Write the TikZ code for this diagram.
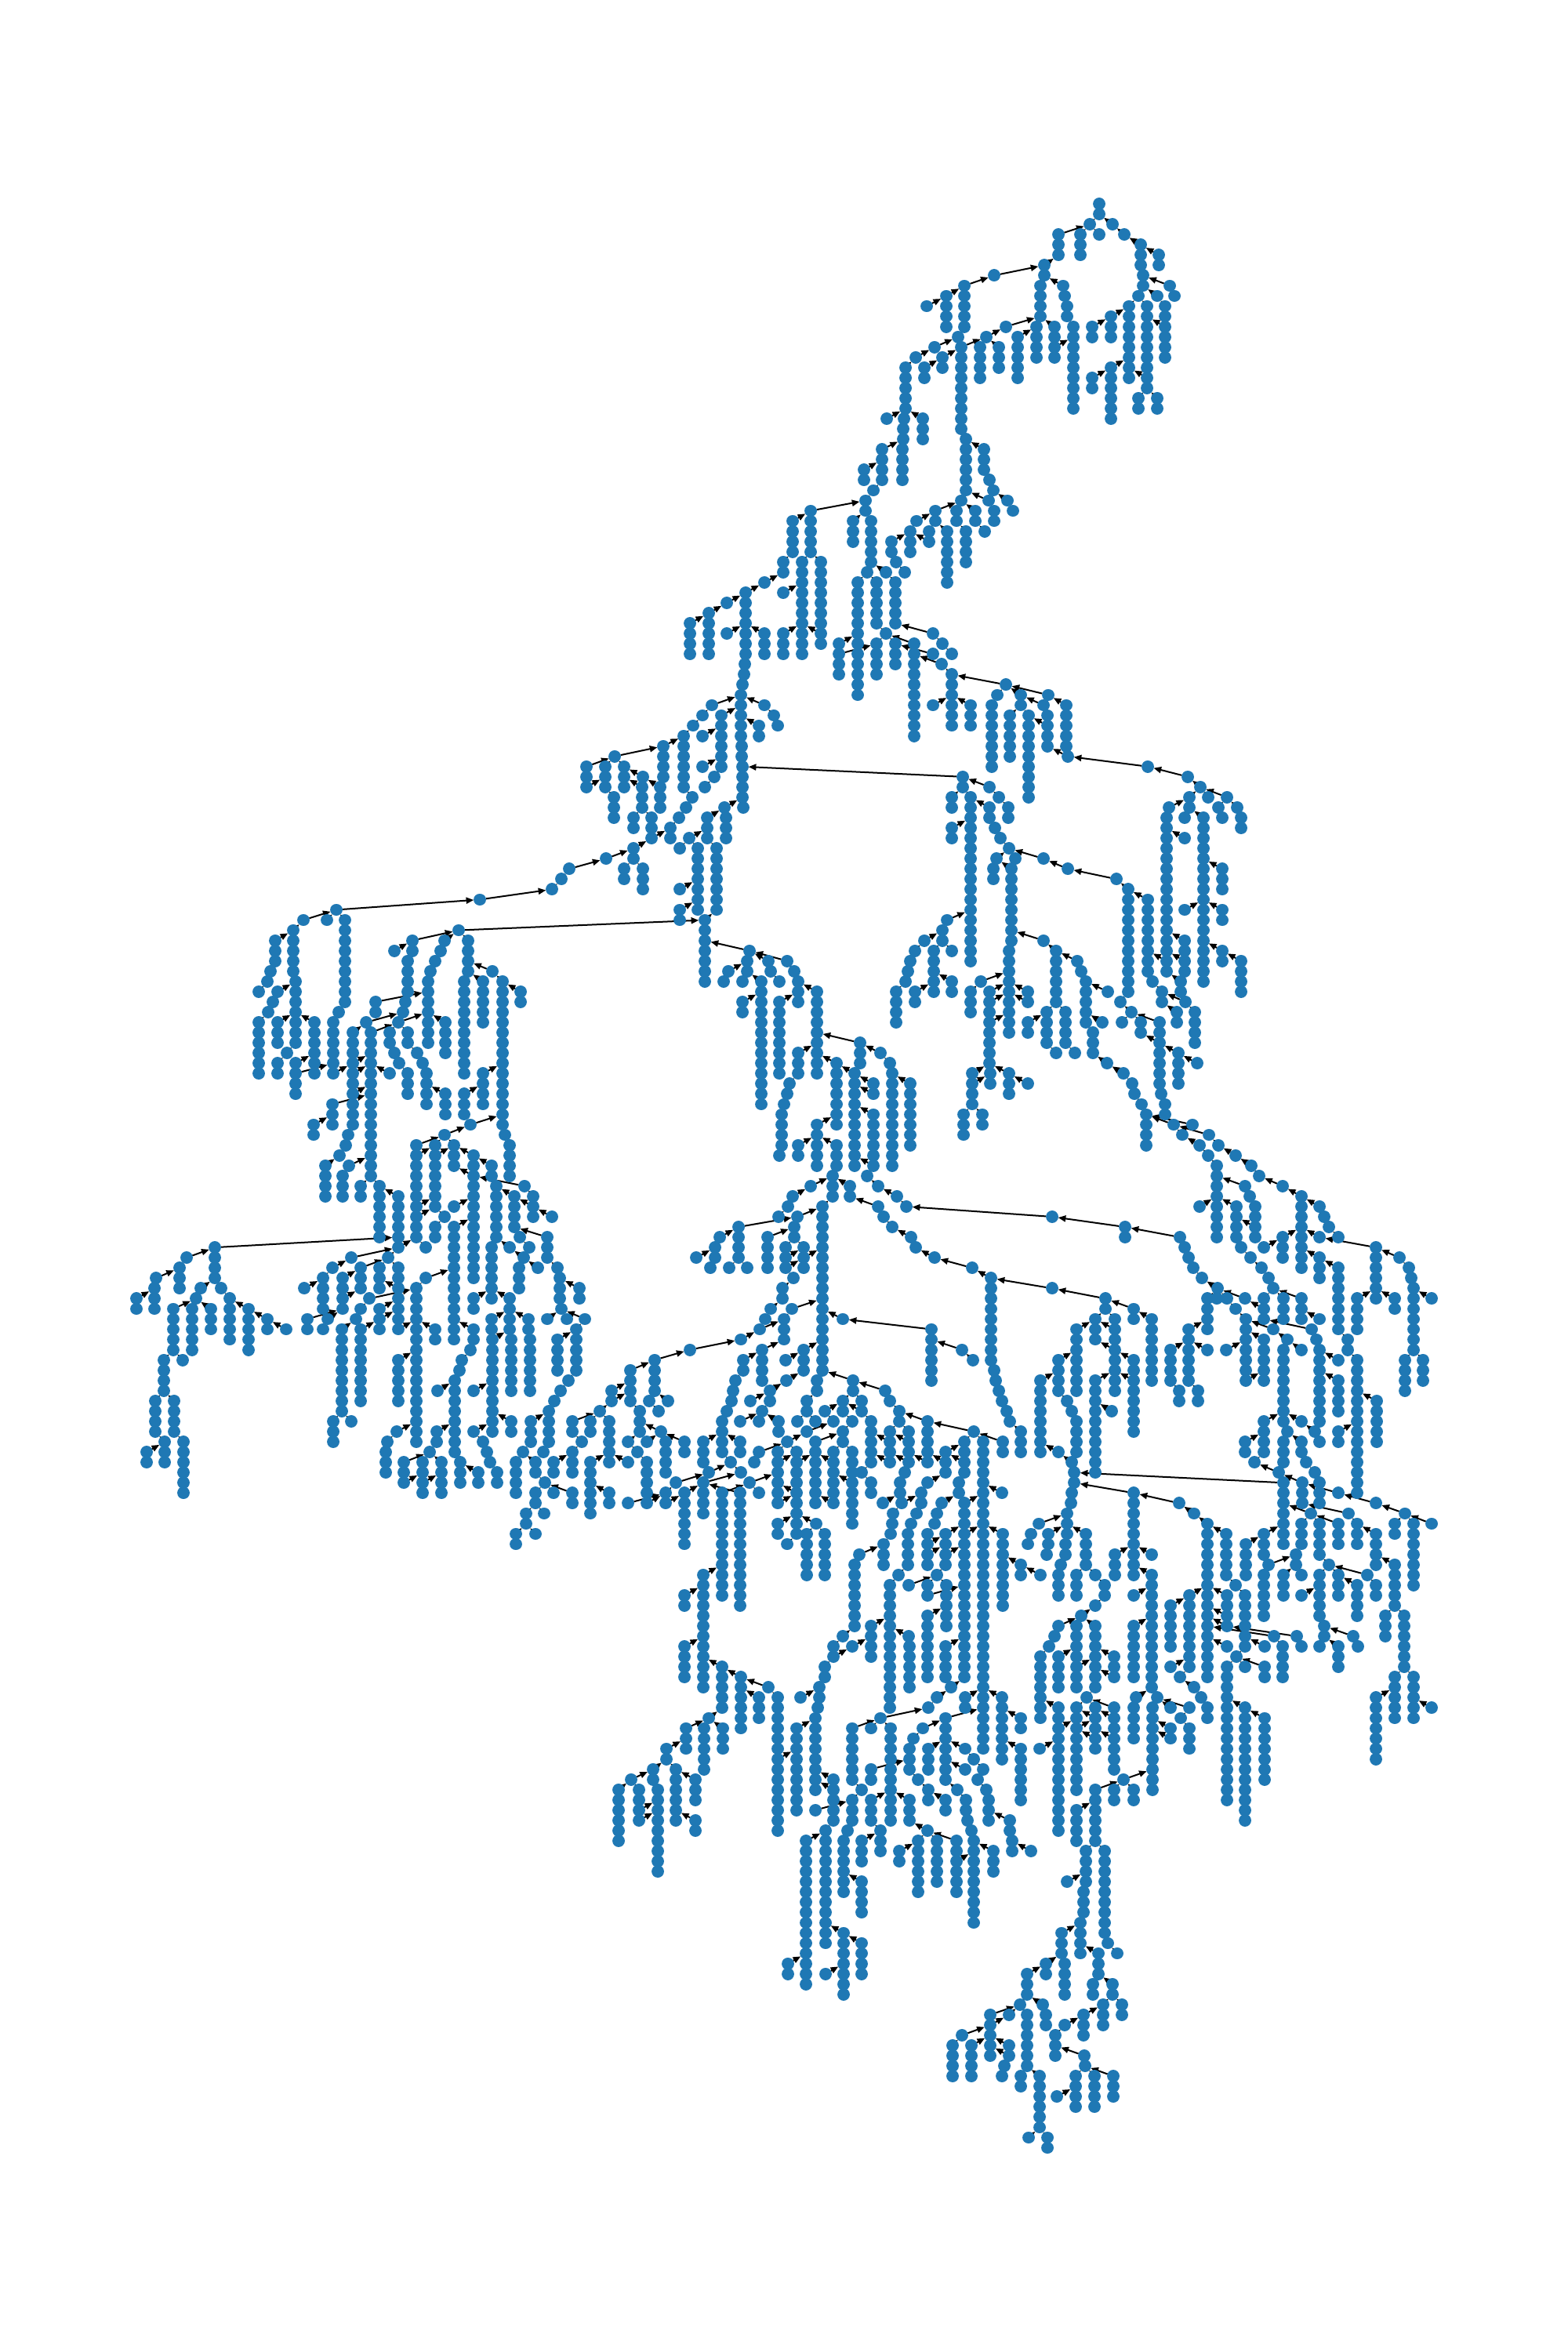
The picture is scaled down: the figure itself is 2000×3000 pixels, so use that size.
\documentclass[tikz,border=0pt]{standalone}
\usetikzlibrary{arrows.meta}
\definecolor{nodeblue}{HTML}{1F78B4}
\pgfdeclarelayer{bg}
\pgfsetlayers{bg,main}
\tikzset{
  dot/.style={circle,inner sep=0pt,outer sep=0pt,minimum size=3.9pt},
  dotstroke/.style={draw=nodeblue,line width=3.95pt,line cap=round},
  edgeln/.style={black,line width=0.5pt,-{Stealth[length=2.4pt,width=2pt,inset=0pt]}}
}
\makeatletter
\newcount\nid \newcount\bd \newcount\bid \newcount\dd
\let\NE\relax \let\HD\relax
\gdef\heads{}
\def\ml{l}\def\mr{r}\def\mn{n}\def\mx{x}
\def\setB#1#2#3#4{\gdef\ox{#1}\gdef\oy{#2}\gdef\sx{#3}\gdef\sy{#4}}
\def\dupNE#1#2{\ifnum\numexpr(\px-#1)*(\px-#1)\relax<81 \gdef\isdup{1}\fi}
\def\addchain{%
 \pgfmathtruncatemacro\px{\ox+\X/\sx+0.5}%
 \pgfmathtruncatemacro\lv{round((\oy+\Y/\sy-260)/13.05)}%
 \edef\DD{\D}\edef\tgt{\px}\def\md{0}%
 \ifx\DD\ml\def\md{-1}\else\ifx\DD\mr\def\md{1}\else\ifx\DD\mn\else\ifx\DD\mx\def\md{9}\else\pgfmathtruncatemacro\tgt{\ox+\DD/\sx+0.5}\fi\fi\fi\fi
 \foreach \ci in {1,...,\N}{%
   \edef\LL{\the\numexpr\lv+\ci-1\relax}%
   \gdef\isdup{0}%
   \ifcsname LV\LL\endcsname
     {\let\NE\dupNE\csname LV\LL\endcsname}%
   \else\expandafter\gdef\csname LV\LL\endcsname{}\expandafter\gdef\csname DP\LL\endcsname{}\fi
   \ifnum\isdup=0
     \global\advance\nid by 1
     \pgfmathsetmacro\yy{260+13.05*\LL}%
     \node[dot] (n\the\nid) at (\px,\yy) {};
     \expandafter\xdef\csname LV\LL\endcsname{\csname LV\LL\endcsname\NE{\px}{\the\nid}}%
     \expandafter\xdef\csname DP\LL\endcsname{\csname DP\LL\endcsname(\px,\yy)--(\px.05,\yy)}%
     \ifnum\ci=1 \xdef\heads{\heads\HD{\the\nid}{\tgt}{\LL}{\md}}\fi
   \fi}}
\def\chains#1{\foreach \X/\Y/\N/\D in {#1}{\addchain}}
\def\srchNE#1#2{%
 \dd=\numexpr#1-\curt\relax
 \ifnum\curm=-1 \ifnum\dd<-1 \else\dd=1000000 \fi\fi
 \ifnum\curm=1 \ifnum\dd>1 \else\dd=1000000 \fi\fi
 \ifnum\dd<0 \dd=-\dd\fi
 \ifnum\dd<\bd \bd=\dd \bid=#2 \fi}
\def\doHD#1#2#3#4{%
 \ifnum#4=9 \else
 \bd=1000000 \bid=0
 \edef\pl{\the\numexpr#3-1\relax}%
 \ifcsname LV\pl\endcsname
  \def\curt{#2}\def\curm{#4}\let\NE\srchNE\csname LV\pl\endcsname
  \ifnum\bid=0 \def\curm{0}\bd=1000000 \csname LV\pl\endcsname\fi
  \ifnum\bid>0 \draw[edgeln] (n#1) -- (n\the\bid);\fi
 \fi\fi}
\makeatother
\begin{document}
\begin{tikzpicture}[x=0.25pt,y=-0.25pt]
\useasboundingbox (0,0) rectangle (2000,3000);
% ---- crop 1
\setB{1100}{220}{3}{3}
\chains{905/120/2/x,870/198/1/r,958/198/1/l,751/237/3/r,835/237/3/r,907/237/1/l,1003/237/1/l,1066/276/3/l,1135/315/2/l,697/354/2/r,1075/395/2/n,1177/435/1/l,1195/475/1/n,682/435/4/n,769/435/1/l,775/475/1/n,784/515/2/n,1057/475/1/r,1127/475/1/l,1021/515/8/r,1090/515/7/l,1159/515/2/l,1159/592/4/l,952/553/3/r,880/592/2/r,667/592/4/r,736/592/2/l,736/670/2/r,808/592/9/n,550/592/1/r,595/632/5/r,473/632/1/r,505/397/1/r,389/435/5/r,320/475/4/r,247/515/1/r,367/632/1/n,379/670/9/r,275/670/1/r,203/710/1/r,307/710/2/r,238/748/2/r,451/670/4/n,523/670/3/l,166/748/5/n,158/943/1/n,155/982/2/n,92/943/1/r,232/943/3/l,397/1020/1/n,952/748/6/r,880/787/2/r,1090/787/2/l,1057/866/2/n,1127/866/2/n}
% ---- crop 2
\setB{700}{500}{2.24}{2.24}
\chains{1015/19/5/n,964/76/1/r,1069/76/3/l,1011/165/4/n,953/165/4/r,901/223/2/r,928/283/1/n,904/312/2/n,749/341/5/904,697/370/4/r,870/370/3/r,921/370/5/l,964/517/1/l,910/517/1/n,883/546/12/r,937/546/5/l,991/546/5/l,1179/19/4/n,1192/135/6/n,1244/165/3/l,1258/253/1/l,1270/283/1/n,1311/312/1/l,1178/312/1/n,1257/312/1/l,1325/341/1/l,1105/341/2/r,1165/341/2/r,1219/341/2/l,1273/341/2/n,1246/400/1/n,1051/370/1/r,1139/400/6/l,1192/400/4/l,1087/400/1/n,1087/429/1/l,1033/400/3/r,980/429/2/r,993/487/1/n,1018/517/1/n,724/487/10/r,778/487/7/l,778/691/2/l,670/487/2/r,617/546/1/r,563/575/7/r,509/604/1/r,457/633/5/r,404/662/4/r,509/691/1/r,617/691/3/l,670/575/1/r,670/691/3/r,561/780/1/n,558/809/1/n,554/839/1/n,548/867/5/n,550/1013/2/n,554/1072/4/n,556/1188/1/n,467/896/1/r,615/896/1/l,642/925/1/n,655/955/1/n,493/925/6/r,440/925/1/n,413/955/1/n,386/984/6/n,440/984/1/r,440/1072/1/r,601/955/2/l,327/1013/4/r,189/1042/1/r,107/1072/2/r,107/1130/1/r,161/1072/3/r,214/1072/3/l,269/1101/1/l,318/1130/3/l,267/1130/3/l,187/1159/3/n,241/1217/2/n,294/1217/2/l,294/1275/1/r,472/1101/1/n,446/1130/1/n,411/1159/1/n,393/1188/1/n,372/1217/1/n,348/1246/2/n,243/1304/2/r,164/1333/1/r,216/1363/2/r,269/1363/3/l,59/1363/1/r,35/1393/1/n,9/1423/1/n,375/1304/1/r,400/1275/1/r,453/1217/3/r,501/1188/1/r,507/1217/3/n,426/1304/7/n,480/1304/7/l,375/1423/1/r,375/1481/2/r,446/1510/1/r,
1044/720/10/l,964/691/1/n,1097/691/1/l,1125/720/1/n,1151/749/1/n,1098/749/1/991,1123/780/1/1044,1152/809/6/n,1307/839/1/l,1098/896/1/r,1206/896/3/l,937/720/4/r,991/720/3/l,829/720/1/r,829/749/3/937,1282/867/1/n,1349/867/2/l,1427/867/1/1307,1414/896/1/1349,1425/925/1/n,1425/955/3/1372,1478/896/5/l,1483/1042/1/1425,1265/896/7/n,1318/925/5/r,1372/925/9/l}
% ---- crop 4
\setB{1100}{950}{1.96}{2.24}
\chains{250/92/2/l,318/122/1/l,342/151/1/n,224/151/2/r,271/151/17/l,318/180/2/l,365/180/2/n,224/238/2/r,332/238/1/n,344/267/1/n,367/296/1/n,453/325/1/l,514/355/1/l,636/385/1/l,665/414/11/n,713/443/8/l,336/325/1/r,382/325/1/n,328/355/2/n,373/355/8/l,367/590/9/n,452/560/1/l,484/590/6/n,538/619/1/l,546/648/1/n,559/677/5/n,600/794/1/l,614/706/1/l,644/736/1/n,672/765/1/n,742/794/2/l,742/853/5/l,747/999/1/n,757/1028/2/n,695/794/2/n,648/794/1/n,789/881/4/l,836/910/1/l,461/765/4/n,508/765/4/l,414/794/2/r,577/823/3/n,485/881/1/n,532/881/1/n,612/910/1/l,653/940/1/n,675/970/1/n,680/999/1/n,698/1028/1/n,710/1057/4/n,778/1086/1/710,826/1086/1/710,867/1115/1/778,800/1115/1/n,842/1145/1/l,864/1174/1/n,885/1203/8/n,889/1145/1/n,932/1174/1/l,972/1203/1/n,992/1232/1/n,1051/1262/1/l,1098/1291/8/n,1143/1320/1/l,1155/1349/1/n,1166/1378/1/n,1190/1407/1/n,1143/1407/1/l,1284/1437/6/1143,1343/1466/1/l,1367/1495/1/n,1372/1524/1/n,957/1262/1/l,969/1291/1/n,981/1320/2/n,981/1378/2/l,934/1320/4/l,842/1320/1/r,946/1437/1/l,970/1466/1/n,998/1495/1/n,1015/1524/1/n,1028/1553/1/n,1051/1407/3/r,1004/1437/1/r,1143/1466/3/l,1190/1495/7/l,475/1349/1/110,110/1320/1/n,87/1291/1/n,39/1262/1/n,11/1232/1/n,657/1378/2/l,794/1407/1/l,806/1437/1/n,816/1466/1/n,828/1495/1/n,848/1524/1/n,887/1553/1/n,39/1320/1/l,52/1349/1/n,75/1378/1/n,122/1407/1/n,134/1437/1/n,181/1466/1/l,275/1495/1/l,322/1524/2/l,475/1553/1/l,
714/63/1/l,814/92/1/l,844/122/1/n,865/151/1/n,889/180/1/n,912/151/1/l,936/180/1/n,947/209/2/n,900/209/1/n,818/151/2/n,806/209/1/n,767/180/1/r,761/209/14/n,761/619/2/l,853/209/17/l,806/267/1/l,900/355/3/l,806/473/1/r,900/473/2/l,806/560/2/l,806/619/2/l,900/590/2/l,947/619/4/l,726/677/1/n,749/706/2/n,808/736/1/749,795/677/2/l,785/765/2/l,832/765/4/n,
212/502/1/r,200/531/2/n,155/560/1/r,132/590/1/n,120/619/1/n,114/648/1/n,108/677/1/n,85/706/4/n,179/590/5/n,224/590/1/l,224/677/2/l,132/706/2/r,295/677/1/367,271/706/3/n,318/706/1/r,318/736/2/r,318/794/5/r,320/940/2/n,414/706/1/l,414/736/1/l,275/940/1/r,275/970/3/r,367/940/3/l,414/970/1/l,252/1057/3/n,299/1057/2/l,45/881/1/l,69/910/1/n,75/940/10/n,120/970/7/l}
% ---- crop 10
\setB{880}{1180}{3}{3}
\chains{58/22/6/n,229/100/1/58,373/139/1/229,220/139/2/n,301/139/1/229,310/178/1/n,148/178/1/r,129/217/1/n,202/217/1/n,274/217/13/l,343/217/1/n,398/178/1/n,415/217/3/n,487/256/9/l,343/295/8/r,202/295/2/r,650/451/3/l,730/490/1/l,767/529/1/n,775/568/9/n,775/922/1/631,844/607/7/l,415/490/3/r,560/529/7/l,631/568/10/l,703/607/1/l,703/646/1/l,703/725/5/l,703/922/1/l,381/607/1/n,373/646/1/n,360/685/1/n,352/725/4/n,343/884/1/n,487/765/2/r,487/845/3/n,560/845/3/l,415/845/2/r,546/960/3/n,463/1000/1/r,394/1040/1/n,376/1078/1/n,613/1000/2/l,675/960/1/l,721/1000/1/n,793/1040/1/l,829/1078/1/n,721/1078/1/546,739/1117/1/n,775/1157/1/n,847/1195/1/l,865/1235/1/n,938/1273/1/l,1081/1312/1/l,1153/1350/1/l,508/1078/17/r,340/1117/1/n,412/1117/1/r,398/1157/2/n,186/1157/4/412,115/1195/1/r,97/1235/2/n,25/1273/1/r,298/1195/4/r,365/1235/1/n,365/1273/1/r,365/1312/1/r,435/1235/1/l,435/1273/2/r,79/1312/1/n,151/1312/1/r,220/1312/1/l}
% ---- crop 3
\setB{300}{1100}{2.24}{2.24}
\chains{699/108/1/r,288/137/1/r,314/166/9/l,261/166/1/r,194/166/1/r,166/195/5/n,115/224/3/r,101/312/1/n,92/341/1/n,68/370/1/n,172/341/7/n,122/370/1/r,108/400/1/n,94/429/1/n,68/458/6/n,122/458/3/r,227/458/6/l,148/546/1/n,122/575/2/n,173/575/1/r,173/604/3/281,281/458/5/n,281/604/1/r,295/429/1/r,401/400/2/547,375/458/1/480,467/458/1/547,387/487/15/r,335/487/3/r,335/575/1/r,335/604/2/r,335/662/4/r,323/780/1/n,316/809/1/n,442/487/2/n,493/487/2/l,455/546/1/n,469/575/1/n,442/604/1/l,493/604/3/n,520/546/1/n,536/575/1/n,547/604/4/n,601/662/3/l,639/195/1/1342,598/224/1/n,588/253/1/n,572/283/1/n,558/312/1/n,550/341/7/n,601/458/4/l,507/224/2/r,455/253/1/r,493/283/4/n,485/400/1/n,480/429/1/n,666/224/4/l,735/312/1/l,655/341/10/n,708/341/5/l,763/341/15/n,815/370/2/l,708/604/4/r,655/662/3/r,770/780/1/n,783/809/4/n,673/750/1/r,598/780/1/r,518/809/1/r,518/838/5/r,518/984/1/r,518/1013/3/r,572/809/1/n,572/838/6/r,625/809/3/l,680/838/2/l,680/896/11/l,733/867/2/l,827/925/1/680,852/954/1/n,852/984/2/l,746/925/6/n,798/954/4/l,905/1013/1/l,892/1072/3/798,814/1072/1/l,839/1101/1/n,785/1101/1/l,733/1101/6/n,825/1130/1/l,812/1159/3/n,921/1159/1/l,928/1188/1/n,928/1217/2/n,932/1277/1/n,864/1159/1/l,983/1217/2/l,892/1306/1/n,947/1306/1/n,1000/1306/1/l,413/925/6/l,465/954/5/l,465/1101/1/r,359/925/2/r,306/896/3/n,325/867/1/r,258/867/4/n,298/838/1/n,278/692/3/387,225/750/2/r,625/984/1/r,598/1013/1/n,625/1042/12/r,572/1042/2/n,545/1101/1/n,437/1130/1/r,332/1130/1/465,278/1159/1/r,252/1188/4/r,198/1217/1/r,306/1188/2/r,306/1247/2/r,359/1159/3/r,465/1159/2/l,465/1217/4/l,465/1335/1/r,413/1159/3/r,545/1188/1/r,518/1217/16/n,383/1247/1/518,359/1277/1/r,205/1306/2/306,265/1306/1/r,251/1335/1/n,413/1277/1/r,413/1306/2/r,345/1306/1/r,305/1335/9/r,359/1335/8/r,572/1335/2/l,680/1335/2/l,673/1394/1/n,648/1423/1/n,640/1452/1/n,628/1481/8/n,785/1247/4/l,680/1247/2/r,733/1306/2/r,735/1364/10/r,838/1306/2/l,789/1364/6/n,843/1364/6/l,921/1364/4/r,975/1335/5/n,953/1481/1/n,930/1510/1/n,912/1539/1/n,578/1510/1/r,682/1510/1/r,465/1423/5/r}
% ---- crop 5
\setB{150}{1500}{2.24}{3}
\chains{278/274/4/801,198/313/1/r,177/352/3/n,110/391/1/r,106/432/3/n,54/471/2/r,238/432/1/r,225/471/1/n,295/432/1/l,321/471/5/n,375/510/5/l,427/550/2/l,481/590/1/l,267/510/3/l,160/510/5/r,213/510/5/n,133/706/4/n,186/706/1/l,108/862/4/n,162/862/4/l,135/1018/3/n,189/1018/6/l,82/1057/2/r,
615/940/3/r,668/940/1/l,908/590/2/l,800/706/5/r,1125/940/2/l,1017/979/1/r,912/979/2/r,798/979/1/r,771/1018/1/n,765/1057/3/n,892/1057/1/n,818/1096/2/r,818/1174/1/r,872/1096/2/n,872/1174/2/r,926/1096/4/l,980/1096/3/l,1031/1135/2/l,1085/1135/2/n,1044/1018/1/l,1055/1057/1/n,1065/1096/1/n,1180/940/3/r,1233/900/4/n}
% ---- crop 6
\setB{600}{1600}{2.24}{3}
\chains{225/600/4/n,209/757/1/n,150/757/1/r,172/640/3/r,131/796/4/n,185/796/2/l,238/796/2/r,292/640/2/r,343/640/2/r,397/640/5/l,370/600/1/r,458/445/4/r,527/406/4/r,627/368/1/r,773/330/1/r,827/290/1/897,897/250/3/n,919/210/1/1007,924/92/1/n,891/132/2/n,858/210/1/n,843/250/1/n,833/368/4/r,780/406/2/r,757/483/1/n,750/522/1/n,746/562/1/n,733/600/1/n,718/640/4/n,771/640/1/r,833/600/1/n,855/522/2/r,800/562/1/r,903/483/1/r,825/640/1/n,880/640/2/l,900/406/1/r,953/368/3/r,1063/250/1/l,1317/290/6/1063,1404/368/1/l,1435/406/1/n,1488/92/9/n,1093/483/2/l,990/483/2/n,1186/522/1/l,1199/562/1/n,1226/600/2/n,960/562/2/n,1065/562/2/r,1118/562/1/l,1118/600/1/l,1012/600/1/r,1092/640/1/n,1038/640/1/n,986/640/1/n,933/640/1/n,1145/640/5/n,1305/640/4/l,1305/796/1/l,1438/680/1/l,1520/718/2/l,1466/718/31/n,1412/718/2/r,1412/796/2/l,1358/757/1/r,1358/796/2/l,1199/680/1/r,1199/718/2/l,1199/796/1/l,1252/680/1/n,1252/718/2/l,1252/796/1/l,1065/680/2/r,960/680/1/1038,905/718/1/r,825/757/1/r,811/796/1/n,772/835/1/n,985/718/7/r,932/757/1/n,932/796/3/r,932/915/5/l,878/757/1/r,878/796/4/r,878/955/1/r,1038/757/1/r,1038/796/4/l,1038/955/1/l,1092/757/3/l,1118/835/1/n,1145/875/2/n,1092/875/5/1038,744/796/1/n,680/835/1/r,586/875/1/r,665/875/4/772,798/875/1/878,718/915/11/r,771/915/12/l,825/915/1/l,612/915/6/r,558/915/1/n,558/955/1/r,505/796/4/n,505/955/1/r,451/955/1/558,451/796/1/l,397/915/2/l,343/796/6/r,317/718/1/l,292/757/3/n,292/915/2/l,212/875/1/l,238/915/1/l,185/915/2/r,158/995/2/n,211/995/1/l,131/1072/2/n,185/1072/1/l,511/562/1/n,565/562/1/l,484/600/3/n,538/600/1/n,545/680/1/l,612/718/2/l,505/718/1/r,558/718/4/n,451/718/1/n,478/757/1/l,404/522/1/r,404/562/1/r,666/718/3/r,771/718/2/l,1306/875/1/r,1395/875/2/n,1287/915/2/n,1275/995/1/n,1260/1033/1/n,1250/1072/4/n,1240/835/1/n,1228/875/2/n,1233/955/1/r,1208/995/1/n,1205/1033/1/n,1200/1072/1/n,1179/955/1/r,1347/955/1/r,1333/995/1/n,1327/1033/1/n,1307/1072/1/n,1307/1112/1/1359,1307/1150/2/r,1412/955/3/r,1412/1072/7/r,1358/1072/1/r,1358/1112/1/n,1358/1150/2/r,1520/1072/8/l,1250/1112/1/1359,1180/1112/3/r,1112/1150/1/r,1098/1190/7/n,1222/1228/1/n,1199/1268/13/n,1252/1268/1/r,1333/1228/1/n,1307/1268/1/n,1307/1306/1/1412,1359/1268/5/l,1412/1268/10/r,1307/1385/7/r,1145/1423/2/r,1065/1462/1/r,1252/1462/1/l,987/1033/1/l,960/1072/5/n,1012/1072/5/l,905/1112/1/r,878/1033/2/r,666/1228/12/r,612/1306/2/r}
% ---- crop 7
\setB{1250}{1550}{2.613}{3}
\chains{38/241/9/l,241/282/1/38,417/322/2/l,511/360/2/l,573/399/7/l,385/399/3/n,449/399/1/l,449/438/2/l,449/517/5/l,322/438/7/r,262/556/4/r,200/634/8/r,511/556/2/l,511/634/6/l,573/634/1/l,383/634/10/r,291/712/1/n,307/751/1/n,322/790/4/n,440/751/1/l,262/907/1/l,305/946/1/l,314/985/2/n,307/1065/1/n,302/1105/1/n,291/1143/3/n,285/1260/2/n,270/1338/1/n,262/1378/3/n,197/1183/1/r,169/1222/1/n,160/1260/1/n,228/1222/2/r,222/1300/1/r,354/1222/4/l,322/1378/3/n,384/1378/1/l,511/1065/9/314,665/1105/1/l,714/1143/1/n,759/1183/16/n,821/1222/5/l,852/1417/1/n,573/1300/1/l,573/1378/12/l,449/1300/3/r,416/1417/2/n,385/1490/1/n,511/1456/1/r,885/1260/4/r,947/1222/3/r,
790/322/1/n,1320/124/6/l,1398/163/1/l,1430/202/1/n,1436/241/1/n,1445/282/7/n,1506/322/1/l,1383/322/2/l,1258/322/4/r,1415/556/4/n,1477/556/3/l,1226/478/2/n,1258/556/14/n,1322/712/5/l,1195/829/2/r,947/322/1/r,947/360/2/l,1010/322/3/l,1072/322/3/978,884/322/1/790,822/322/1/n,852/360/1/n,1132/399/1/l,885/399/6/n,885/634/1/r,978/438/1/885,1105/438/1/947,1120/478/1/n,1132/517/8/n,1195/556/1/l,1195/634/4/l,947/478/5/885,1025/478/1/978,1072/517/1/l,1010/517/8/1025,821/517/1/r,635/517/4/r,696/438/6/r,759/322/4/n,759/517/1/l,665/673/2/n,727/673/2/l,1072/790/1/l,1116/829/1/l,1132/868/1/n,1025/829/1/n,1010/868/3/n,995/985/1/915,947/790/4/r,884/868/2/r,1072/868/2/l,1088/946/1/n,1116/985/1/n,1132/1025/3/n,915/946/1/n,1073/1025/3/995,1195/1065/1/1073,1320/1105/1/1195,1415/1143/1/l,1506/1183/1/l,1227/1143/1/1073,1102/1143/1/1010,1072/1183/3/n,1132/1183/4/1102,1195/1183/3/1102,1258/1183/3/n,1320/1222/4/l,1383/1183/2/r,1445/1183/7/l,1383/1338/5/l,1054/1300/2/n,962/1338/1/1054,1010/1378/3/r,1072/1378/1/n,947/1378/5/n,1164/1338/1/n,1290/1378/1/l,1195/1378/3/l,1258/1417/4/l,1132/1378/5/r,1072/1456/1/r,1010/1025/7/314,
48/595/1/n,53/634/1/n,63/673/1/n,72/712/1/n,90/751/1/n,100/790/1/n,137/829/3/n,74/868/2/l,74/1065/1/l,74/1222/8/l,137/1338/2/l,200/1378/1/l}
% ---- crop 8
\setB{1250}{1950}{2.412}{3}
\chains{355/295/1/n,312/334/1/n,242/373/1/r,228/412/1/n,212/451/1/n,185/490/7/n,297/373/4/n,297/529/3/r,355/373/7/l,413/490/2/l,413/568/1/l,242/490/4/r,327/648/1/n,413/688/1/l,413/727/2/l,413/805/4/l,242/688/2/l,242/766/11/r,297/688/2/n,297/766/7/r,355/688/1/l,355/727/2/l,355/805/2/l,183/845/1/r,472/256/1/r,472/373/6/r,530/178/4/l,530/334/7/r,586/295/5/r,643/256/8/r,816/256/6/n,759/256/2/l,759/334/1/l,759/373/1/l,875/451/1/l,904/412/1/701,975/412/1/759,990/451/1/n,932/451/4/n,759/451/1/l,788/490/1/n,875/529/2/l,816/529/1/n,759/529/14/n,816/688/12/l,875/727/7/l,586/529/1/r,615/568/1/n,658/607/1/l,680/648/1/n,700/688/2/n,643/688/1/544,544/648/1/n,480/648/1/r,472/688/4/n,530/688/9/n,587/688/1/544,617/727/1/n,643/766/3/n,587/766/1/l,587/805/1/l,442/962/1/r,355/1000/6/r,413/1000/2/n,472/1000/2/l,297/1078/4/r,990/256/1/r,1060/373/2/n,1045/451/1/n,1103/451/3/l,1147/412/1/l,1162/451/1/n,1190/178/1/l,1219/217/2/n,1248/334/3/n,1306/334/6/l,1277/568/5/n,1335/568/5/l,1390/688/1/l,1219/648/7/r}
% ---- crop 9
\setB{800}{2050}{2.613}{3}
\chains{190/151/4/r,315/228/5/l,378/267/6/l,471/307/1/l,440/348/3/l,503/348/6/n,503/582/8/r,272/425/1/n,305/388/1/n,195/464/3/r,257/464/5/n,320/464/3/l,131/543/2/r,87/620/2/n,12/660/1/r,163/620/6/n,227/660/3/l,40/700/2/n,40/778/1/r,40/817/1/r,103/700/9/n,227/817/2/l,565/464/9/r,628/425/8/n,636/388/1/n,641/307/2/n,658/228/2/n,688/151/1/n,688/190/1/r,720/112/1/r,813/73/4/r,578/348/1/r,751/151/1/r,940/112/5/l,940/267/2/1062,1062/151/4/r,1080/307/1/r,1032/348/1/n,1003/388/1/n,1125/348/2/r,1250/348/7/l,1313/425/2/l,1313/543/6/l,845/425/1/1003,813/464/1/n,750/464/6/r,877/464/10/l,1062/425/7/1187,986/464/1/r,955/505/1/n,940/543/3/n,1003/543/3/r,1125/543/1/l,1156/582/1/n,1187/620/1/n,1125/620/1/l,1167/660/1/n,813/620/2/940,782/700/1/n,750/738/3/n,688/660/1/l,688/700/4/l,628/778/1/750,813/738/3/r,940/738/3/l,970/660/1/l,1003/700/2/n,1062/738/2/l,1057/660/1/l,1101/700/1/l,1128/738/2/n,1135/817/1/n,1147/855/1/n,1156/895/9/n,1198/700/1/n,1205/738/3/n,1275/817/2/l,1282/895/2/n,1345/935/1/l,1002/855/1/l,1097/895/2/l,1097/973/4/r,970/895/6/r,1033/895/5/l,908/935/2/r,1219/935/3/l,845/855/3/n,782/895/3/r,735/855/1/n,722/895/6/n,660/855/12/n,597/895/15/r,782/1050/4/l,722/1250/7/l,782/1290/4/l,535/1365/2/r,660/1405/1/r}
% ---- crop 12
\setB{1180}{2340}{3}{3}
\chains{616/64/4/r,688/64/9/l,700/418/1/n,736/457/1/n,544/182/1/r,605/220/3/n,595/340/4/n,523/378/3/r,463/495/2/r,535/495/4/n,391/535/3/r,664/457/3/l,643/573/2/n,716/573/2/l,680/652/3/n,752/652/2/l,607/690/3/r,535/730/1/r,451/652/1/l,463/690/2/n,499/770/3/n,610/847/1/l,613/886/1/n,577/925/4/n,649/925/4/l,721/925/3/613,505/1003/1/r,364/652/1/r,322/690/1/n,391/690/6/l,250/690/1/r,250/730/4/r,142/770/1/r,106/808/4/n,178/808/4/r,322/808/1/l,322/847/1/l,304/886/1/n,295/925/1/n,367/925/2/n,438/925/6/l,397/1160/1/n,469/1160/2/l}
% ---- small left group near the bottom
\setB{0}{0}{1}{1}
\chains{789/2283/6/r}
\begin{pgfonlayer}{bg}
\let\HD\doHD
\heads
\end{pgfonlayer}
\foreach \ll in {0,...,195}{%
  \ifcsname DP\ll\endcsname
    \expandafter\let\expandafter\cp\csname DP\ll\endcsname
    \draw[dotstroke] \cp;
  \fi}
\end{tikzpicture}
\end{document}
